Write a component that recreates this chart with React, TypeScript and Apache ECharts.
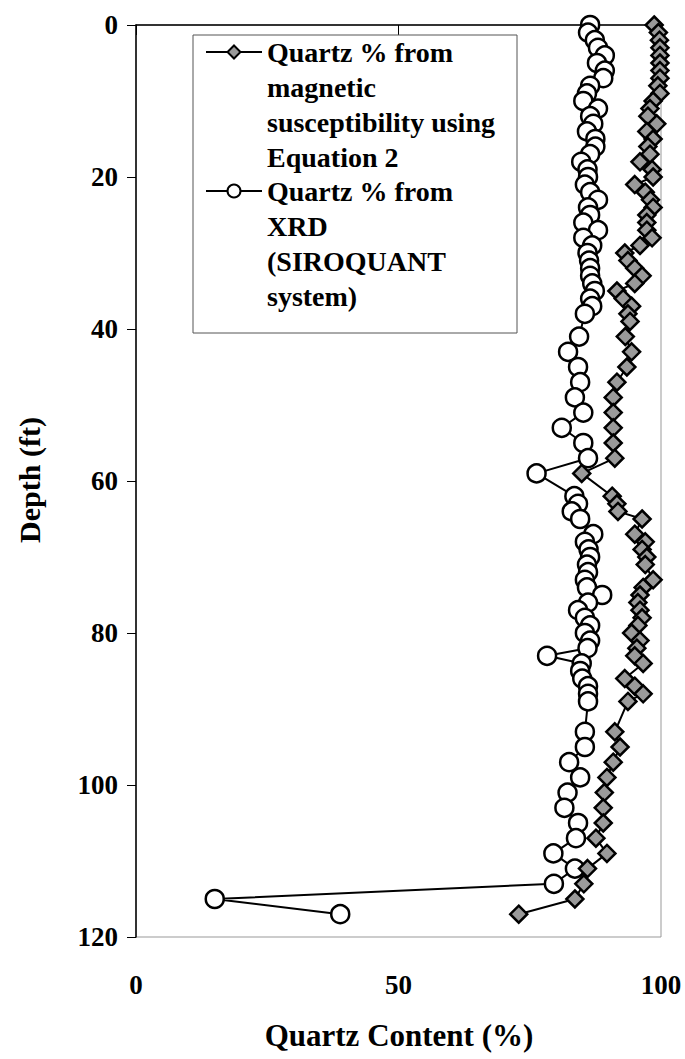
import React, { useEffect, useRef } from "react";
import * as echarts from "echarts";

// Quartz % from magnetic susceptibility (Equation 2)
const magDepth = [0, 1, 2, 3, 4, 5, 6, 7, 8, 9, 10, 11, 12, 13, 14, 15, 16, 17, 18, 19, 20, 21, 22, 23, 24, 25, 26, 27, 28, 29, 30, 31, 32, 33, 34, 35, 36, 37, 38, 39, 41, 43, 45, 47, 49, 51, 53, 55, 57, 59, 62, 63, 64, 65, 67, 68, 69, 70, 71, 73, 74, 75, 76, 77, 78, 79, 80, 81, 82, 83, 84, 86, 87, 88, 89, 93, 95, 97, 99, 101, 103, 105, 107, 109, 111, 113, 115, 117];
const magValue = [98.7, 99.5, 99.7, 99.8, 99.8, 99.8, 99.8, 99.8, 99.4, 99.8, 98.5, 97.9, 97.5, 99.2, 97.3, 98.5, 97.5, 97.9, 96, 98.3, 98.5, 95, 97, 98, 98.5, 97.3, 97.3, 97.3, 98.3, 96, 93.1, 93.7, 95, 96.4, 95, 91.6, 92.8, 94.4, 93.7, 94.1, 93.2, 94.4, 93.5, 91.6, 90.9, 90.9, 90.9, 90.9, 91.2, 84.9, 90.7, 91.6, 91.8, 96.4, 95, 97, 96.4, 97.3, 97, 98.5, 96.6, 96, 95.6, 96, 96.4, 95.6, 94.4, 96, 95.4, 95, 96.6, 93.1, 95, 96.6, 93.7, 91.2, 92.2, 90.9, 89.7, 89.2, 89, 89, 87.6, 89.7, 86, 85.3, 83.6, 72.9];

// Quartz % from XRD (SIROQUANT system)
const xrdDepth = [0, 1, 2, 3, 4, 5, 6, 7, 8, 9, 10, 11, 12, 13, 14, 15, 16, 17, 18, 19, 20, 21, 22, 23, 24, 25, 26, 27, 28, 29, 30, 31, 32, 33, 34, 35, 36, 37, 38, 41, 43, 45, 47, 49, 51, 53, 55, 57, 59, 62, 63, 64, 65, 67, 68, 69, 70, 71, 72, 73, 74, 75, 76, 77, 78, 79, 80, 81, 82, 83, 84, 85, 86, 87, 88, 89, 93, 95, 97, 99, 101, 103, 105, 107, 109, 111, 113, 115, 117];
const xrdValue = [86.5, 86.1, 87.4, 88, 89.3, 87.8, 89.3, 89, 86.5, 85.9, 85.2, 88, 86.5, 87.1, 85.9, 87.5, 87.5, 86.5, 84.8, 86, 86.1, 85.5, 86.5, 88, 86.1, 86.5, 85.2, 88, 85.2, 86.9, 86, 86.3, 86.5, 86.5, 86.9, 87.4, 86.5, 86.9, 85.5, 84.4, 82.3, 84.2, 84.6, 83.6, 85.2, 81.1, 85.2, 86.1, 76.3, 83.5, 84.2, 83, 84.6, 87.1, 85.5, 86.2, 86.5, 85.9, 86.1, 85.5, 85.9, 88.8, 86.1, 84.2, 85.5, 86.5, 85.5, 86.5, 86, 78.3, 84.9, 84.6, 85, 86.1, 86.1, 86.1, 85.5, 85.5, 82.5, 84.6, 82.2, 81.6, 84.2, 83.8, 79.5, 83.6, 79.6, 15, 38.9];

const depthTicks = [0, 20, 40, 60, 80, 100, 120];
const contentTicks = [0, 50, 100];

const legendLines1 = ["Quartz % from", "magnetic", "susceptibility using", "Equation 2"];
const legendLines2 = ["Quartz % from", "XRD", "(SIROQUANT", "system)"];

const FONT = "'Liberation Serif', 'Times New Roman', serif";

export default function App() {
  const ref = useRef<HTMLDivElement>(null);
  useEffect(() => {
    if (!ref.current) return;
    const chart = echarts.init(ref.current, undefined, { renderer: "svg" });
    const magData = magDepth.map((d, i) => [magValue[i], d]);
    const xrdData = xrdDepth.map((d, i) => [xrdValue[i], d]);

    const L = { x0: 193, y0: 35, w: 324, h: 298 };
    const lineYs1 = [52, 87, 122, 157];
    const lineYs2 = [191, 226, 261, 296];
    const textX = 267;
    const textStyle = (t: string, y: number) => ({
      type: "text",
      x: textX,
      y,
      style: {
        text: t,
        fill: "#000",
        font: `bold 28px ${FONT}`,
        verticalAlign: "middle",
        align: "left",
      },
      z: 20,
    });
    const m1y = lineYs1[0];
    const m2y = lineYs2[0];
    const mx = 234;

    const graphic: any[] = [
      {
        type: "rect",
        shape: { x: L.x0, y: L.y0, width: L.w, height: L.h },
        style: { fill: "#fff", stroke: "#555", lineWidth: 1 },
        z: 10,
      },
      { type: "line", shape: { x1: 206, y1: m1y, x2: 262, y2: m1y }, style: { stroke: "#000", lineWidth: 2 }, z: 15 },
      {
        type: "polygon",
        shape: { points: [[mx, m1y - 6.5], [mx + 6.5, m1y], [mx, m1y + 6.5], [mx - 6.5, m1y]] },
        style: { fill: "#9a9a9a", stroke: "#000", lineWidth: 2 },
        z: 16,
      },
      { type: "line", shape: { x1: 206, y1: m2y, x2: 262, y2: m2y }, style: { stroke: "#000", lineWidth: 2 }, z: 15 },
      {
        type: "circle",
        shape: { cx: mx, cy: m2y, r: 6.5 },
        style: { fill: "#fff", stroke: "#000", lineWidth: 2 },
        z: 16,
      },
      ...legendLines1.map((t, i) => textStyle(t, lineYs1[i])),
      ...legendLines2.map((t, i) => textStyle(t, lineYs2[i])),
      {
        type: "text",
        x: 399,
        y: 1035,
        style: {
          text: "Quartz Content (%)",
          fill: "#000",
          font: `bold 31px ${FONT}`,
          align: "center",
          verticalAlign: "middle",
        },
      },
      {
        type: "text",
        x: 29,
        y: 480,
        rotation: Math.PI / 2,
        style: {
          text: "Depth (ft)",
          fill: "#000",
          font: `bold 30px ${FONT}`,
          align: "center",
          verticalAlign: "middle",
        },
      },
    ];

    chart.setOption({
      animation: false,
      backgroundColor: "#fff",
      grid: {
        left: 136,
        top: 25,
        width: 525,
        height: 912,
        show: true,
        borderColor: "#999",
        borderWidth: 1,
        backgroundColor: "transparent",
      },
      xAxis: {
        type: "value",
        min: contentTicks[0],
        max: contentTicks[contentTicks.length - 1],
        interval: 50,
        splitLine: { show: false },
        axisLine: { show: true, lineStyle: { color: "#000", width: 1.5 } },
        axisTick: { show: true, length: 10, lineStyle: { color: "#000", width: 1 } },
        axisLabel: { fontSize: 27, fontWeight: "bold", fontFamily: FONT, color: "#000", margin: 34 },
      },
      yAxis: {
        type: "value",
        inverse: true,
        min: depthTicks[0],
        max: depthTicks[depthTicks.length - 1],
        interval: 20,
        splitLine: { show: false },
        axisLine: { show: true, onZero: false, lineStyle: { color: "#000", width: 1.5 } },
        axisTick: { show: true, length: 9, lineStyle: { color: "#000", width: 1 } },
        axisLabel: { fontSize: 27, fontWeight: "bold", fontFamily: FONT, color: "#000", margin: 18 },
      },
      series: [
        {
          name: "Quartz % from XRD (SIROQUANT system)",
          type: "line",
          data: xrdData,
          symbol: "circle",
          symbolSize: 18,
          lineStyle: { color: "#000", width: 2 },
          itemStyle: { color: "#fff", borderColor: "#000", borderWidth: 2.5 },
          z: 3,
        },
        {
          name: "Quartz % from magnetic susceptibility using Equation 2",
          type: "line",
          data: magData,
          symbol: "diamond",
          symbolSize: 17,
          lineStyle: { color: "#000", width: 2 },
          itemStyle: { color: "#9a9a9a", borderColor: "#000", borderWidth: 2.5 },
          z: 4,
        },
      ],
      graphic,
    });
    return () => chart.dispose();
  }, []);
  return (
    <div
      ref={ref}
      style={{ position: "absolute", left: 0, top: 0, width: 685, height: 1059 }}
    />
  );
}
